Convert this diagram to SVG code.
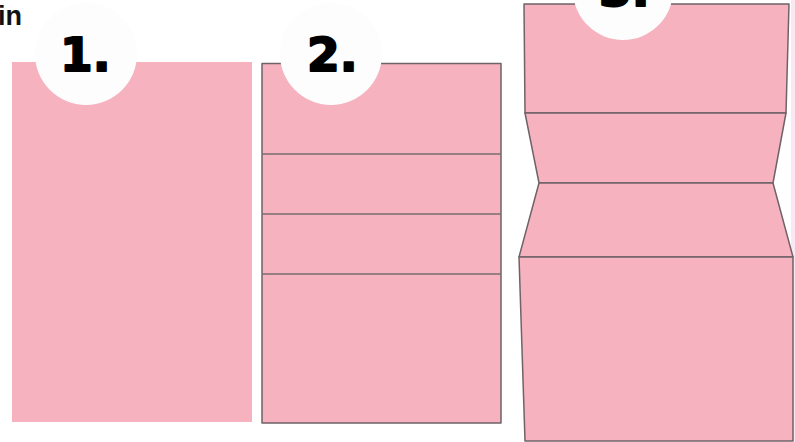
<svg xmlns="http://www.w3.org/2000/svg" width="795" height="442" viewBox="0 0 795 442">
<style>
.paper{fill:#f6b2bf}
.fold{fill:#f6b2bf;stroke:#6f6367;stroke-width:1.5;stroke-linejoin:round}
.crease{stroke:#7a6d71;stroke-width:1.5;fill:none}
.bubble{fill:#fdfdfd}
.num{font-family:"DejaVu Sans","Liberation Sans",sans-serif;font-weight:bold;font-size:47px;fill:#000;stroke:#000;stroke-width:2;stroke-linejoin:round}
.lbl{font-family:"Liberation Sans",Arial,sans-serif;font-weight:bold;font-size:27px;fill:#111}
</style>
<rect width="795" height="442" fill="#ffffff"/>
<rect x="791" y="0" width="4" height="442" fill="#fce6f2"/>
<text class="lbl" x="-2" y="25">in</text>

<g id="step1">
<rect class="paper" x="12" y="62" width="240" height="360"/>
<ellipse class="bubble" cx="86" cy="54" rx="51" ry="51"/>
<text class="num" x="60" y="71">1.</text>
</g>

<g id="step2">
<rect class="fold" x="262" y="63.5" width="239" height="359.5"/>
<line class="crease" x1="262" y1="154" x2="501" y2="154"/>
<line class="crease" x1="262" y1="214" x2="501" y2="214"/>
<line class="crease" x1="262" y1="274" x2="501" y2="274"/>
<ellipse class="bubble" cx="331" cy="54" rx="51" ry="51"/>
<text class="num" x="307" y="71">2.</text>
</g>

<g id="step3">
<polygon class="fold" points="524,4 789,4 786,113 525,113"/>
<polygon class="fold" points="525,113 786,113 773,183 539,183"/>
<polygon class="fold" points="539,183 773,183 793,257 519,257"/>
<polygon class="fold" points="519,257 793,257 793,441 525,441"/>
<ellipse class="bubble" cx="623" cy="-10" rx="50" ry="50"/>
<text class="num" x="599" y="6">3.</text>
</g>
</svg>
